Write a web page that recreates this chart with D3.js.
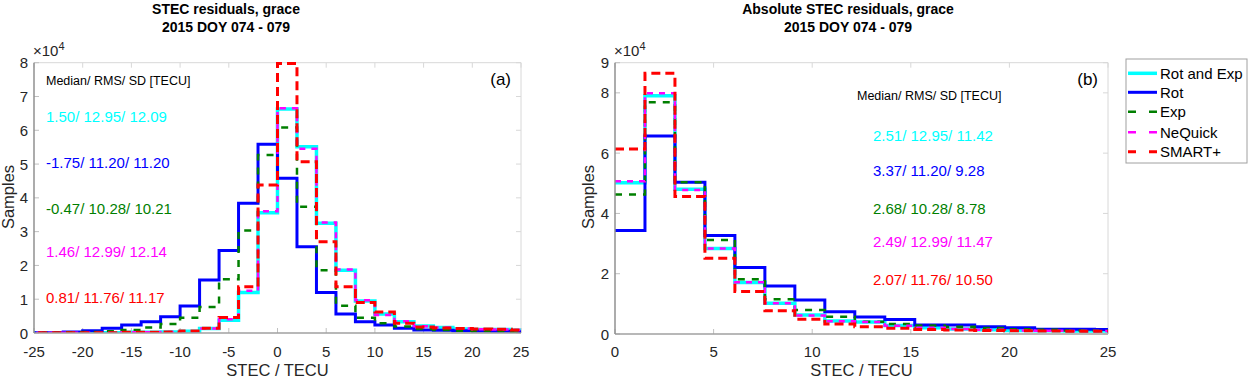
<!DOCTYPE html>
<html>
<head>
<meta charset="utf-8">
<script src="https://cdn.jsdelivr.net/npm/d3@7"></script>
<style>
  body { margin: 0; background: #fff; }
  svg { font-family: "Liberation Sans", Arial, sans-serif; }
</style>
</head>
<body>
<div id="chart"></div>
<script>
// sample counts in units of 1e4
// panel (a): signed residuals, bins of 2 TECU starting at -26
const leftBinStart = -26, leftBinWidth = 2;
const leftRotExp = [0.01,0.01,0.01,0.01,0.01,0.02,0.02,0.03,0.05,0.13,0.38,1.20,3.56,6.63,5.51,3.25,1.86,0.95,0.56,0.33,0.21,0.16,0.12,0.10,0.10,0.08];
const leftRot    = [0.01,0.01,0.03,0.07,0.14,0.24,0.33,0.48,0.80,1.57,2.44,3.84,5.59,4.58,2.55,1.20,0.56,0.33,0.24,0.14,0.09,0.08,0.07,0.06,0.05,0.04];
const leftExp    = [0.01,0.01,0.02,0.03,0.05,0.09,0.16,0.27,0.45,0.77,1.59,3.03,5.27,6.08,3.74,1.86,0.81,0.45,0.29,0.19,0.12,0.09,0.07,0.06,0.05,0.04];
const leftNeQ    = [0.01,0.01,0.01,0.01,0.01,0.02,0.02,0.03,0.05,0.13,0.41,1.25,3.60,6.65,5.45,3.27,1.88,0.97,0.53,0.35,0.20,0.16,0.13,0.11,0.10,0.09];
const leftSmart  = [0.01,0.01,0.01,0.01,0.01,0.02,0.02,0.03,0.06,0.14,0.46,1.37,4.38,7.98,5.07,2.70,1.37,0.90,0.62,0.29,0.18,0.15,0.13,0.12,0.11,0.09];

// panel (b): absolute residuals, bins of 1.52 TECU starting at 0
const rightBinStart = 0, rightBinWidth = 1.52;
const rightRotExp = [5.02,7.90,4.80,2.84,1.71,1.02,0.63,0.43,0.40,0.28,0.21,0.17,0.14,0.12,0.11,0.10,0.10];
const rightRot    = [3.43,6.57,5.03,3.27,2.21,1.59,1.13,0.74,0.56,0.48,0.30,0.30,0.24,0.21,0.16,0.16,0.15];
const rightExp    = [4.63,7.69,5.03,3.12,1.82,1.15,0.80,0.57,0.41,0.33,0.28,0.24,0.20,0.16,0.14,0.12,0.11];
const rightNeQ    = [5.07,7.99,4.78,2.84,1.72,1.02,0.61,0.42,0.40,0.27,0.21,0.17,0.14,0.12,0.11,0.10,0.10];
const rightSmart  = [6.14,8.65,4.56,2.51,1.41,0.77,0.49,0.33,0.24,0.19,0.15,0.13,0.12,0.11,0.10,0.09,0.09];

const seriesNames = ["Rot and Exp", "Rot", "Exp", "NeQuick", "SMART+"];
const leftStats  = ["1.50/ 12.95/ 12.09", "-1.75/ 11.20/ 11.20", "-0.47/ 10.28/ 10.21", "1.46/ 12.99/ 12.14", "0.81/ 11.76/ 11.17"];
const rightStats = ["2.51/ 12.95/ 11.42", "3.37/ 11.20/ 9.28", "2.68/ 10.28/ 8.78", "2.49/ 12.99/ 11.47", "2.07/ 11.76/ 10.50"];

const leftXTicks = [-25, -20, -15, -10, -5, 0, 5, 10, 15, 20, 25];
const leftYTicks = [0, 1, 2, 3, 4, 5, 6, 7, 8];
const rightXTicks = [0, 5, 10, 15, 20, 25];
const rightYTicks = [0, 2, 4, 6, 8, 9];

// styles per series
const styles = {
    "Rot and Exp": { color: "#00ffff", width: 3.5, dash: null },
    "Rot":         { color: "#0000ff", width: 3,   dash: null },
    "Exp":         { color: "#007f00", width: 2.5, dash: "7,7" },
    "NeQuick":     { color: "#ff00ff", width: 2.5, dash: "6,6" },
    "SMART+":      { color: "#ff0000", width: 3,   dash: "9,5" }
};

const svg = d3.select("#chart").append("svg")
    .attr("width", 1248).attr("height", 378);

function drawPanel(cfg) {
    const x = d3.scaleLinear().domain(cfg.xDomain).range([cfg.left, cfg.right]);
    const y = d3.scaleLinear().domain(cfg.yDomain).range([cfg.bottom, cfg.top]);
    const g = svg.append("g");

    const clipId = "clip-" + cfg.id;
    svg.append("clipPath").attr("id", clipId).append("rect")
        .attr("x", cfg.left).attr("y", cfg.top - 2)
        .attr("width", cfg.right - cfg.left).attr("height", cfg.bottom - cfg.top + 2);

    // box: top + right light
    g.append("line").attr("x1", cfg.left).attr("x2", cfg.right).attr("y1", cfg.top).attr("y2", cfg.top)
        .attr("stroke", "#d8d8d8").attr("stroke-width", 1);
    g.append("line").attr("x1", cfg.right).attr("x2", cfg.right).attr("y1", cfg.top).attr("y2", cfg.bottom)
        .attr("stroke", "#d8d8d8").attr("stroke-width", 1);

    // ticks, inward
    cfg.xTicks.forEach(t => {
        g.append("line").attr("x1", x(t)).attr("x2", x(t)).attr("y1", cfg.bottom).attr("y2", cfg.bottom - 5)
            .attr("stroke", "#c0c0c0");
        g.append("line").attr("x1", x(t)).attr("x2", x(t)).attr("y1", cfg.top).attr("y2", cfg.top + 5)
            .attr("stroke", "#d8d8d8");
        g.append("text").attr("x", x(t)).attr("y", 356.5)
            .attr("text-anchor", "middle").attr("font-size", 15).attr("fill", "#262626")
            .text(t);
    });
    cfg.yTicks.forEach(t => {
        g.append("line").attr("x1", cfg.left).attr("x2", cfg.left + 5).attr("y1", y(t)).attr("y2", y(t))
            .attr("stroke", "#c0c0c0");
        g.append("line").attr("x1", cfg.right).attr("x2", cfg.right - 5).attr("y1", y(t)).attr("y2", y(t))
            .attr("stroke", "#d8d8d8");
        g.append("text").attr("x", cfg.left - 6).attr("y", y(t) + 5.5)
            .attr("text-anchor", "end").attr("font-size", 15).attr("fill", "#262626")
            .text(t);
    });

    // stairs
    const line = d3.line().x(d => x(d[0])).y(d => y(d[1])).curve(d3.curveStepAfter);
    seriesNames.forEach(name => {
        const vals = cfg.series[name];
        const pts = vals.map((v, i) => [cfg.binStart + i * cfg.binWidth, v]);
        pts.push([cfg.binStart + vals.length * cfg.binWidth, vals[vals.length - 1]]);
        const st = styles[name];
        g.append("path").attr("d", line(pts))
            .attr("clip-path", `url(#${clipId})`)
            .attr("fill", "none").attr("stroke", st.color)
            .attr("stroke-width", st.width)
            .attr("stroke-dasharray", st.dash);
    });

    // left + bottom axis lines
    g.append("line").attr("x1", cfg.left).attr("x2", cfg.right).attr("y1", cfg.bottom).attr("y2", cfg.bottom)
        .attr("stroke", "#a0a0a0").attr("stroke-width", 1.5);
    g.append("line").attr("x1", cfg.left).attr("x2", cfg.left).attr("y1", cfg.top).attr("y2", cfg.bottom)
        .attr("stroke", "#909090").attr("stroke-width", 1.5);

    // x10^4
    const ex = g.append("text").attr("x", cfg.left - 1).attr("y", cfg.top - 7)
        .attr("font-size", 15).attr("fill", "#262626");
    ex.append("tspan").text("\u00d710");
    ex.append("tspan").attr("font-size", 11).attr("dy", -6).text("4");

    // axis labels
    g.append("text").attr("x", (cfg.left + cfg.right) / 2).attr("y", 376)
        .attr("text-anchor", "middle").attr("font-size", 16.5).attr("fill", "#262626")
        .text("STEC / TECU");
    g.append("text").attr("transform", `translate(${cfg.yLabelX},197) rotate(-90)`)
        .attr("text-anchor", "middle").attr("font-size", 16.5).attr("fill", "#262626")
        .text("Samples");

    // titles
    cfg.title.forEach((t, i) => {
        g.append("text").attr("x", cfg.titleX).attr("y", 14 + i * 18)
            .attr("text-anchor", "middle").attr("font-size", 14).attr("font-weight", "bold")
            .attr("fill", "#000").text(t);
    });

    // panel tag
    g.append("text").attr("x", cfg.right - 10).attr("y", 85)
        .attr("text-anchor", "end").attr("font-size", 17).attr("fill", "#000")
        .text(cfg.tag);

    // stats text
    g.append("text").attr("x", cfg.statsHeadX).attr("y", cfg.statsHeadY + 4.5)
        .attr("font-size", 12.5).attr("fill", "#000")
        .text("Median/ RMS/ SD [TECU]");
    cfg.stats.forEach((s, i) => {
        g.append("text").attr("x", cfg.statsX).attr("y", cfg.statsY[i] + 5.5)
            .attr("font-size", 15).attr("fill", styles[seriesNames[i]].color)
            .text(s);
    });
}

drawPanel({
    id: "a", left: 34, right: 521, top: 62.7, bottom: 333,
    xDomain: [-25, 25], yDomain: [0, 8],
    xTicks: leftXTicks, yTicks: leftYTicks,
    binStart: leftBinStart, binWidth: leftBinWidth,
    series: { "Rot and Exp": leftRotExp, "Rot": leftRot, "Exp": leftExp, "NeQuick": leftNeQ, "SMART+": leftSmart },
    title: ["STEC residuals, grace", "2015 DOY 074 - 079"], titleX: 226,
    yLabelX: 14, tag: "(a)",
    statsHeadX: 46, statsHeadY: 80, statsX: 46,
    statsY: [116.7, 162.7, 208, 251.7, 297.7], stats: leftStats
});

drawPanel({
    id: "b", left: 615, right: 1108, top: 62.7, bottom: 334,
    xDomain: [0, 25], yDomain: [0, 9],
    xTicks: rightXTicks, yTicks: rightYTicks,
    binStart: rightBinStart, binWidth: rightBinWidth,
    series: { "Rot and Exp": rightRotExp, "Rot": rightRot, "Exp": rightExp, "NeQuick": rightNeQ, "SMART+": rightSmart },
    title: ["Absolute STEC residuals, grace", "2015 DOY 074 - 079"], titleX: 848,
    yLabelX: 594, tag: "(b)",
    statsHeadX: 857, statsHeadY: 95, statsX: 873,
    statsY: [135, 170.7, 208.3, 241.7, 279], stats: rightStats
});

// legend
const legend = svg.append("g");
legend.append("rect").attr("x", 1126).attr("y", 59).attr("width", 121).attr("height", 104)
    .attr("fill", "#fff").attr("stroke", "#a0a0a0").attr("stroke-width", 1);
const legendY = [73.3, 92.3, 111.7, 132.3, 151.7];
seriesNames.forEach((name, i) => {
    const st = styles[name];
    legend.append("line").attr("x1", 1128).attr("x2", 1157).attr("y1", legendY[i]).attr("y2", legendY[i])
        .attr("stroke", st.color).attr("stroke-width", st.width)
        .attr("stroke-dasharray", st.dash ? "8,13" : null);
    legend.append("text").attr("x", 1160).attr("y", legendY[i] + 5.5)
        .attr("font-size", 15).attr("fill", "#000").text(name);
});
</script>
</body>
</html>
